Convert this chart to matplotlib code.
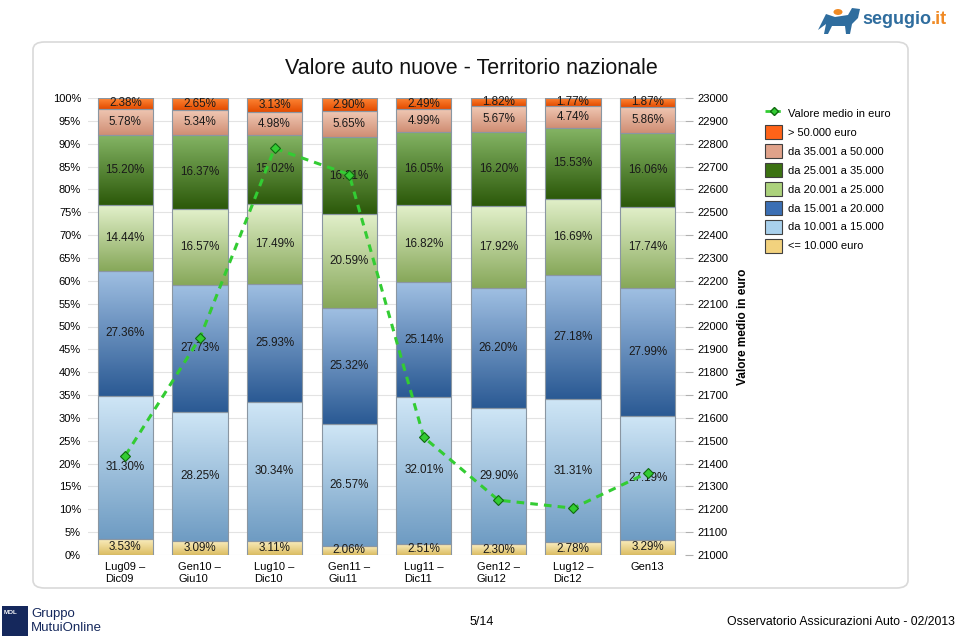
import matplotlib.pyplot as plt
import numpy as np
from matplotlib.colors import LinearSegmentedColormap
from matplotlib.lines import Line2D
from matplotlib.patches import FancyBboxPatch, Patch, Rectangle, Polygon, Circle

plt.rcParams["font.family"] = ["Liberation Sans", "DejaVu Sans"]

periods = [
    "Lug09 –\nDic09", "Gen10 –\nGiu10", "Lug10 –\nDic10", "Gen11 –\nGiu11",
    "Lug11 –\nDic11", "Gen12 –\nGiu12", "Lug12 –\nDic12", "Gen13",
]

# shares per price band (%), bottom to top
fino_10k = [3.53, 3.09, 3.11, 2.06, 2.51, 2.30, 2.78, 3.29]
da_10k_15k = [31.30, 28.25, 30.34, 26.57, 32.01, 29.90, 31.31, 27.19]
da_15k_20k = [27.36, 27.73, 25.93, 25.32, 25.14, 26.20, 27.18, 27.99]
da_20k_25k = [14.44, 16.57, 17.49, 20.59, 16.82, 17.92, 16.69, 17.74]
da_25k_35k = [15.20, 16.37, 15.02, 16.91, 16.05, 16.20, 15.53, 16.06]
da_35k_50k = [5.78, 5.34, 4.98, 5.65, 4.99, 5.67, 4.74, 5.86]
oltre_50k = [2.38, 2.65, 3.13, 2.90, 2.49, 1.82, 1.77, 1.87]

band_labels = [
    "<= 10.000 euro", "da 10.001 a 15.000", "da 15.001 a 20.000",
    "da 20.001 a 25.000", "da 25.001 a 35.000", "da 35.001 a 50.000",
    "> 50.000 euro",
]

valore_medio = [21435, 21950, 22780, 22665, 21515, 21240, 21205, 21360]

# (legend colour, gradient bottom, gradient top)
band_colors = [
    ("#f2d27e", "#dcbd62", "#fbefc2"),
    ("#a8d0ec", "#6f9cc3", "#cfe6f6"),
    ("#3b6fb4", "#2b5a94", "#9fbfe2"),
    ("#acd27c", "#87a85a", "#e2f0ca"),
    ("#3c7212", "#2c590a", "#84b464"),
    ("#e0a28a", "#d08e74", "#f0c8b4"),
    ("#ff6318", "#e44c00", "#ff8838"),
]

bands = [fino_10k, da_10k_15k, da_15k_20k, da_20k_25k, da_25k_35k, da_35k_50k, oltre_50k]

fig = plt.figure(figsize=(9.6, 6.36), dpi=100)

panel = FancyBboxPatch(
    (33 / 960, 1 - 588 / 636), (908 - 33) / 960, (588 - 42) / 636,
    boxstyle="round,pad=0,rounding_size=0.012", transform=fig.transFigure,
    facecolor="white", edgecolor="#d9d9d9", linewidth=1.2, zorder=0,
)
fig.add_artist(panel)

ax = fig.add_axes([88 / 960, 1 - 555 / 636, (685 - 88) / 960, (555 - 98) / 636])
ax.set_facecolor("none")

x = np.arange(len(periods))
width = 0.74
grad = np.linspace(0, 1, 64).reshape(-1, 1)
bottom = np.zeros(len(periods))
for vals, (_, c_bot, c_top) in zip(bands, band_colors):
    vals = np.array(vals)
    bars = ax.bar(x, vals, width, bottom=bottom, facecolor="none",
                  edgecolor="#8a96a2", linewidth=0.8, zorder=3)
    cmap = LinearSegmentedColormap.from_list("g", [c_bot, c_top])
    for rect, v, b in zip(bars, vals, bottom):
        x0 = rect.get_x()
        im = ax.imshow(grad, extent=(x0, x0 + width, b, b + v), origin="lower",
                       cmap=cmap, aspect="auto", zorder=2, interpolation="bilinear")
        im.set_clip_path(rect)
        ax.text(x0 + width / 2, b + v / 2, f"{v:.2f}%", ha="center", va="center",
                fontsize=8.4, color="#1a1a1a", zorder=4)
    bottom = bottom + vals

ax.set_xlim(-0.5, len(periods) - 0.5)
ax.set_ylim(0, 100)
ax.set_yticks(range(0, 101, 5))
ax.set_yticklabels([f"{v}%" for v in range(0, 101, 5)], fontsize=8)
ax.set_xticks(x)
ax.set_xticklabels(periods, fontsize=8, multialignment="left")
ax.tick_params(axis="both", length=0)
ax.tick_params(axis="y", pad=5)
ax.tick_params(axis="x", pad=5)
ax.grid(axis="y", color="#e3e3e3", linewidth=0.8, zorder=0)
ax.set_axisbelow(True)
for s in ax.spines.values():
    s.set_visible(False)

ax2 = ax.twinx()
ax2.plot(x, valore_medio, linestyle=(0, (2.5, 2)), color="#33cc33", linewidth=2.2,
         marker="D", markersize=5, markerfacecolor="#33cc33",
         markeredgecolor="#0f6a0f", markeredgewidth=0.8, zorder=5)
ax2.set_ylim(21000, 23000)
ax2.set_yticks(range(21000, 23001, 100))
ax2.set_yticklabels([str(v) for v in range(21000, 23001, 100)], fontsize=8)
ax2.tick_params(axis="y", length=6, color="#b0b0b0", width=0.8, pad=3)
for s in ax2.spines.values():
    s.set_visible(False)
ax2.set_ylabel("Valore medio in euro", fontsize=8.5, fontweight="bold", labelpad=6)

handles = [Line2D([], [], linestyle=(0, (2, 1.5)), color="#33cc33", linewidth=2,
                  marker="D", markersize=4, markerfacecolor="#33cc33",
                  markeredgecolor="#0f6a0f")]
labels = ["Valore medio in euro"]
for lab, (c, _, _) in reversed(list(zip(band_labels, band_colors))):
    handles.append(Patch(facecolor=c, edgecolor="#404040", linewidth=0.8))
    labels.append(lab)
fig.legend(handles, labels, loc="upper left", bbox_to_anchor=(765 / 960, 1 - 106 / 636),
           frameon=False, fontsize=8, handlelength=1.55, handleheight=1.6,
           handletextpad=0.5, labelspacing=0.42, borderpad=0, borderaxespad=0)

fig.text(471 / 960, 1 - 69 / 636, "Valore auto nuove - Territorio nazionale",
         ha="center", va="center", fontsize=15.5, color="#111111")

# footer
fig.text(482 / 960, 1 - 622 / 636, "5/14", ha="center", va="center", fontsize=9)
fig.text(955 / 960, 1 - 622 / 636, "Osservatorio Assicurazioni Auto - 02/2013",
         ha="right", va="center", fontsize=8.8)
fig.add_artist(Rectangle((2 / 960, 0), 26 / 960, 30 / 636, transform=fig.transFigure,
                         facecolor="#15285c", edgecolor="none"))
fig.text(4 / 960, 1 - 612 / 636, "MOL", fontsize=4.5, fontweight="bold", color="white",
         va="center")
fig.text(31 / 960, 1 - 614 / 636, "Gruppo", fontsize=9.5, color="#15285c", va="center")
fig.text(31 / 960, 1 - 628 / 636, "MutuiOnline", fontsize=9.5, color="#15285c", va="center")

# segugio.it logo
dog = [(818, 30), (826, 14), (835, 17), (848, 15), (852, 8), (860, 9), (858, 18),
       (852, 24), (850, 34), (846, 34), (845, 26), (832, 26), (828, 34), (824, 34), (826, 24)]
fig.add_artist(Polygon([(px / 960, 1 - py / 636) for px, py in dog], closed=True,
                       transform=fig.transFigure, facecolor="#2f6d9e", edgecolor="none"))
fig.add_artist(Circle((838 / 960, 1 - 12 / 636), 4.5 / 960, transform=fig.transFigure,
                      facecolor="#f08a24", edgecolor="none"))
logo = fig.text(862 / 960, 1 - 24 / 636, "segugio", fontsize=13, fontweight="bold",
                color="#2f6d9e", va="baseline")
ax.annotate(".it", xy=(1, 0), xycoords=logo, fontsize=13, fontweight="bold",
            color="#f08a24", va="bottom", ha="left", annotation_clip=False)

plt.savefig("out.png", dpi=100)
plt.close()
